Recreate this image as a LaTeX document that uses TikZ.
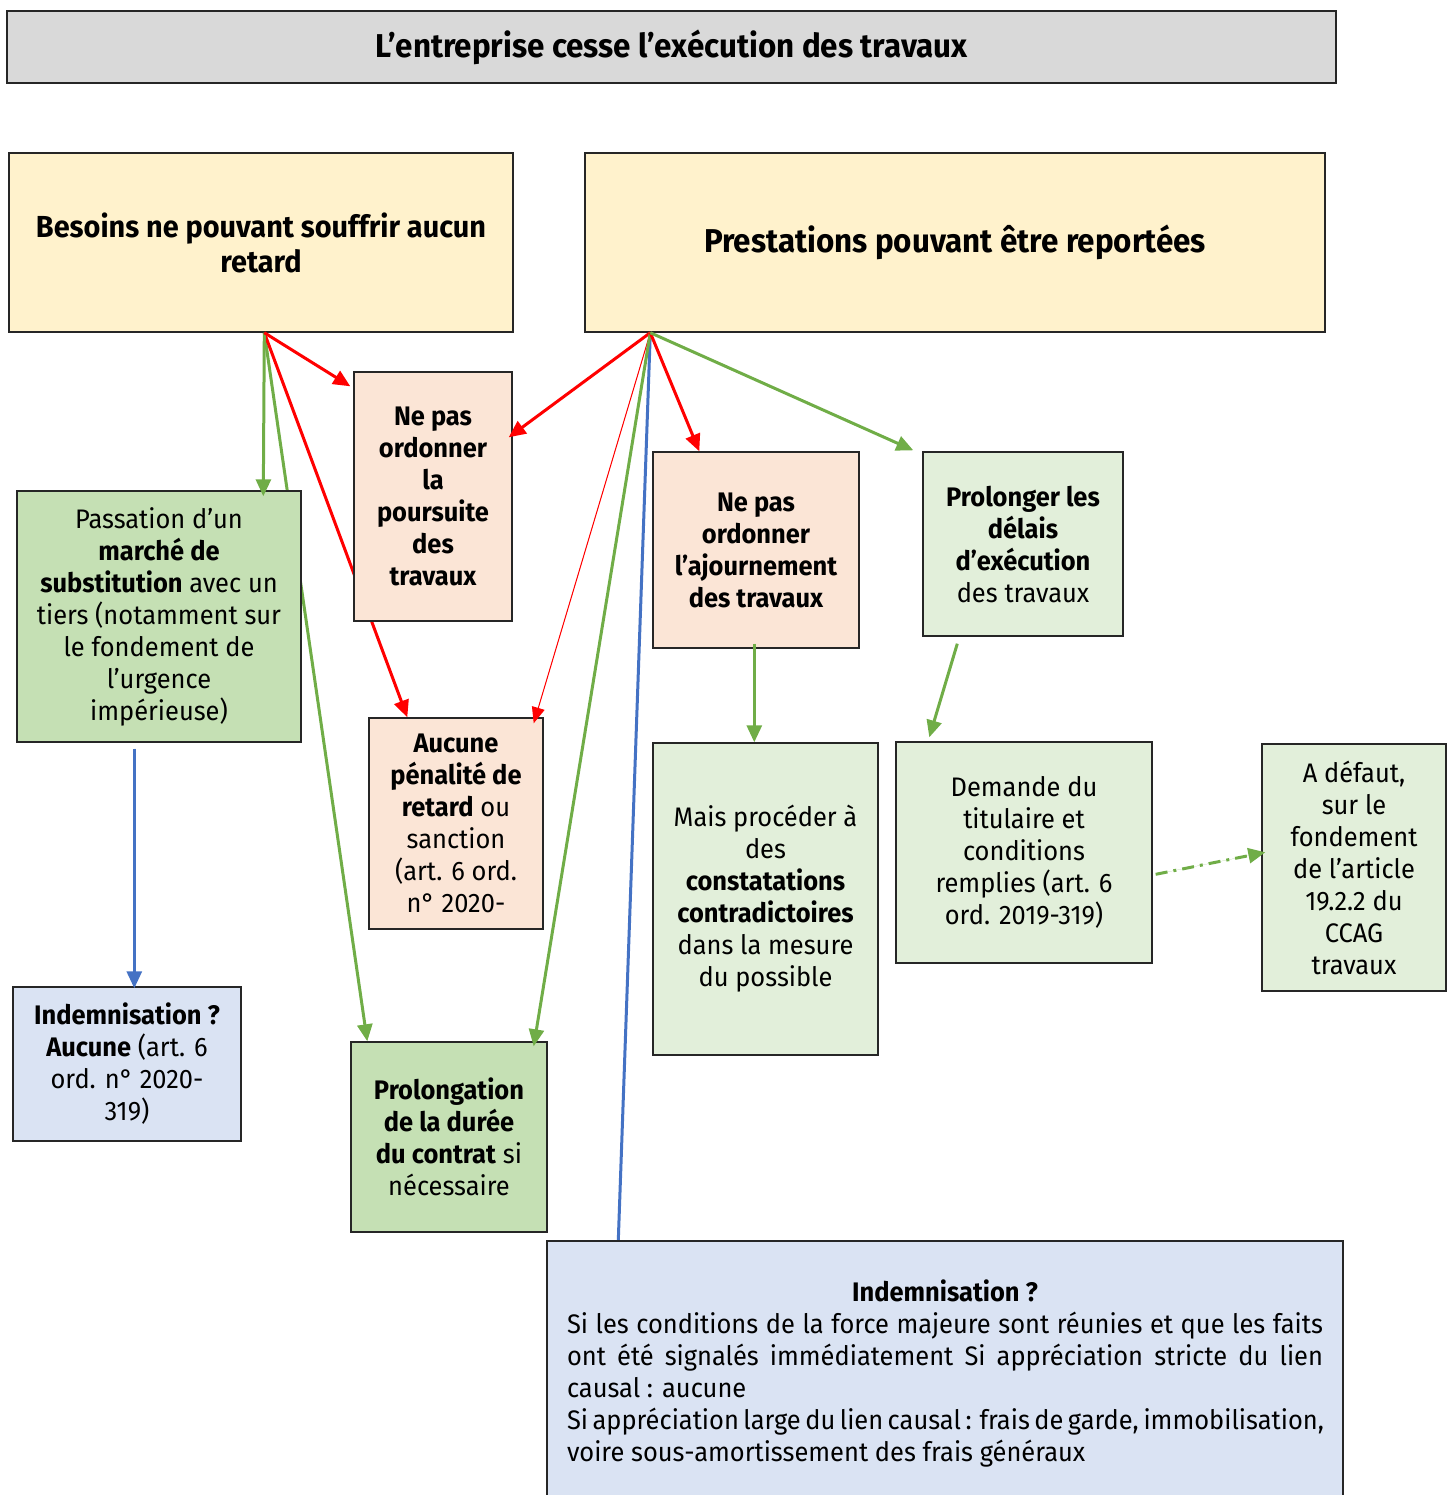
\documentclass[tikz,border=0pt]{standalone}
\usepackage{fontspec}
\setmainfont{Fira Sans}[FakeStretch=0.95]
\usetikzlibrary{arrows.meta,calc,backgrounds}
\definecolor{cgray}{HTML}{D9D9D9}
\definecolor{cyellow}{HTML}{FFF2CC}
\definecolor{cpeach}{HTML}{FBE5D6}
\definecolor{cgreenD}{HTML}{C5E0B4}
\definecolor{cgreenL}{HTML}{E2EFDA}
\definecolor{cblueL}{HTML}{DAE3F3}
\definecolor{agreen}{HTML}{70AD47}
\definecolor{ared}{HTML}{FF0000}
\definecolor{ablue}{HTML}{4472C4}
\begin{document}
\begin{tikzpicture}[x=0.5pt,y=-0.5pt,
  box/.style={draw=black!85, line width=0.7pt, align=center, inner sep=0pt,
    font=\fontsize{13.4}{16}\selectfont},
  head/.style={font=\fontsize{16.5}{17.5}\selectfont\bfseries},
  sz/.style 2 args={minimum width=#1*0.5pt, minimum height=#2*0.5pt},
  tip/.style={-{Triangle[length=8.5pt,width=7.5pt]}},
  garr/.style={tip, draw=agreen, fill=agreen, line width=1.5pt},
  rarr/.style={tip, draw=ared, fill=ared, line width=1.5pt},
  rthin/.style={-{Triangle[length=8pt,width=6.5pt]}, draw=ared, fill=ared, line width=0.5pt},
  barr/.style={tip, draw=ablue, fill=ablue, line width=1.5pt},
  bline/.style={draw=ablue, line width=1.5pt},
  gdashdot/.style={garr, dash pattern=on 6pt off 3pt on 1.5pt off 3pt}
]
\useasboundingbox (0,0) rectangle (1453,1495);
\clip (0,0) rectangle (1453,1495);

% nodes
\node[box, head, fill=cgray, sz={1329}{72}] (title) at (671.5,47) {L’entreprise cesse l’exécution des travaux};
\node[box, fill=cyellow, sz={504}{179}, font=\fontsize{15.2}{17.5}\selectfont\bfseries] (besoins) at (261,242.5) {Besoins ne pouvant souffrir aucun\\retard};
\node[box, head, fill=cyellow, sz={740}{179}] (prest) at (955,242.5) {Prestations pouvant être reportées};
\node[box, fill=cpeach, sz={158}{249}, font=\fontsize{13.4}{16}\selectfont\bfseries] (pours) at (433,496.5) {Ne pas\\ordonner\\la\\poursuite\\des\\travaux};
\node[box, fill=cgreenD, sz={284}{251}] (passation) at (159,616.5) {Passation d’un\\\textbf{marché de}\\\textbf{substitution} avec un\\tiers (notamment sur\\le fondement de\\l’urgence\\impérieuse)};
\node[box, fill=cpeach, sz={174}{211}] (aucune) at (456,823.5) {\textbf{Aucune}\\\textbf{pénalité de}\\\textbf{retard} ou\\sanction\\(art. 6 ord.\\n° 2020-};
\node[box, fill=cpeach, sz={206}{196}, font=\fontsize{13.4}{16}\selectfont\bfseries] (ajourn) at (756,550) {Ne pas\\ordonner\\l’ajournement\\des travaux};
\node[box, fill=cgreenL, sz={200}{184}] (prolonger) at (1023,544) {\textbf{Prolonger les}\\\textbf{délais}\\\textbf{d’exécution}\\des travaux};
\node[box, fill=cgreenL, sz={225}{312}] (mais) at (765.5,899) {Mais procéder à\\des\\\textbf{constatations}\\\textbf{contradictoires}\\dans la mesure\\du possible};
\node[box, fill=cgreenL, sz={256}{221}] (demande) at (1024,852.5) {Demande du\\titulaire et\\conditions\\remplies (art. 6\\ord. 2019-319)};
\node[box, fill=cgreenL, sz={184}{247}] (adefaut) at (1354,867.5) {A défaut,\\sur le\\fondement\\de l’article\\19.2.2 du\\CCAG\\travaux};
\node[box, fill=cblueL, sz={228}{154}] (indemL) at (127,1064) {\textbf{Indemnisation ?}\\\textbf{Aucune} (art. 6\\ord. n° 2020-\\319)};
\node[box, fill=cgreenD, sz={196}{190}] (prolongation) at (449,1137) {\textbf{Prolongation}\\\textbf{de la durée}\\\textbf{du contrat} si\\nécessaire};
\node[box, fill=cblueL, sz={796}{280}] (indemB) at (945,1381) {};
\node[align=center, inner sep=0pt, anchor=north, font=\fontsize{13.4}{16}\selectfont] (indemBtxt) at (945,1279) {%
\textbf{Indemnisation ?}\\
\makebox[378pt][s]{Si les conditions de la force majeure sont réunies et que les faits}\\
\makebox[378pt][s]{ont été signalés immédiatement Si appréciation stricte du lien}\\
\makebox[378pt][l]{causal : aucune}\\
\makebox[378pt][s]{Si appréciation large du lien causal : frais de garde, immobilisation,}\\
\makebox[378pt][l]{voire sous-amortissement des frais généraux}};

% source points
\coordinate (bs) at ($(besoins.south west)+(256,0)$);
\coordinate (ps) at ($(prest.south west)+(66,0)$);

% connectors passing behind boxes
\begin{scope}[on background layer]
\draw[garr] (bs) -- ($(prolongation.north west)+(17,0)$);
\draw[rarr] (bs) -- ($(aucune.north west)+(39,0)$);
\draw[bline] (ps) -- ($(indemB.north west)+(72,0)$);
\end{scope}

% connectors on top
\draw[garr] (bs) -- ($(passation.north west)+(247,6)$);
\draw[rarr] (bs) -- ($(pours.north west)+(-3,15)$);
\draw[rarr] (ps) -- ($(pours.north east)+(-4,66)$);
\draw[rthin] (ps) -- ($(aucune.north east)+(-10,6)$);
\draw[garr] (ps) -- ($(prolongation.north east)+(-14,5)$);
\draw[rarr] (ps) -- ($(ajourn.north west)+(47,0)$);
\draw[garr] (ps) -- ($(prolonger.north west)+(-9,-1)$);
\draw[garr] ($(ajourn.south west)+(102,-5)$) -- ($(mais.north west)+(102,0)$);
\draw[garr] ($(prolonger.south west)+(35,7)$) -- ($(demande.north west)+(34,-4)$);
\draw[gdashdot] ($(demande.north east)+(3,133)$) -- ($(adefaut.north west)+(4,109)$);
\draw[barr] ($(passation.south west)+(118,6)$) -- ($(indemL.north west)+(122,2)$);
\end{tikzpicture}
\end{document}
